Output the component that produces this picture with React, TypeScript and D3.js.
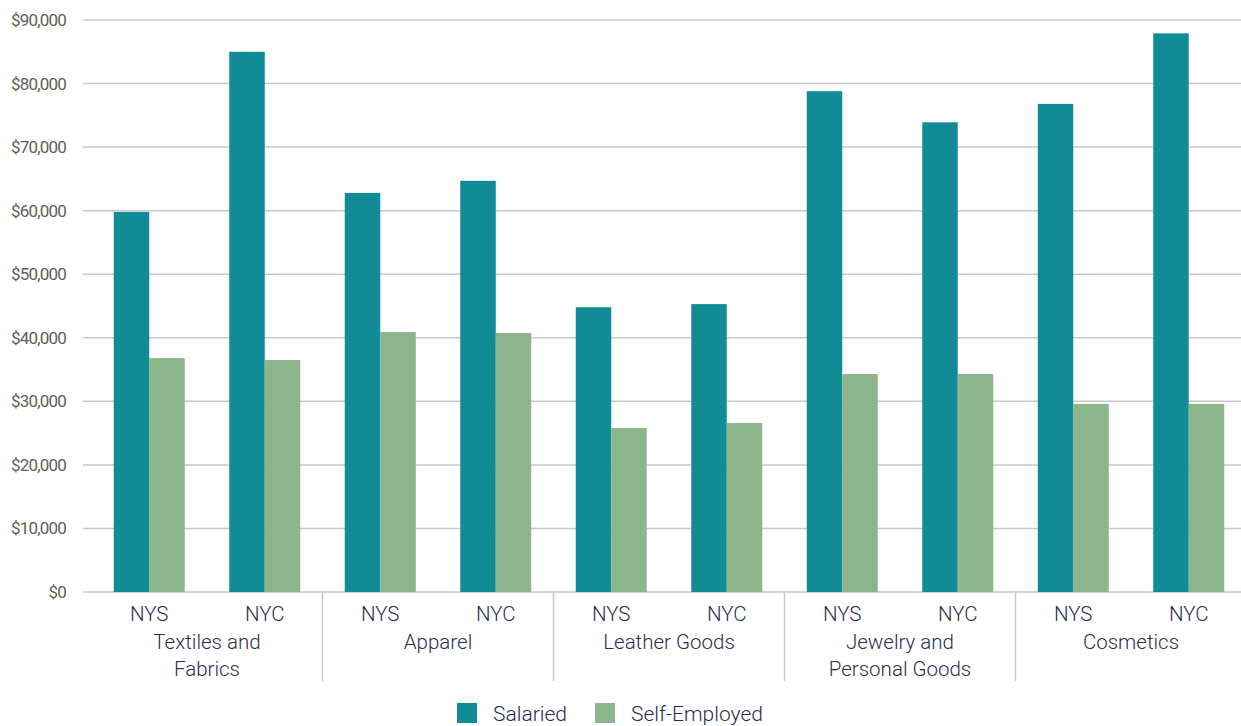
import React from "react";
import * as d3 from "d3";

const groups = ["Textiles and\nFabrics", "Apparel", "Leather Goods", "Jewelry and\nPersonal Goods", "Cosmetics"];
const regions = ["NYS", "NYC"];
const series = ["Salaried", "Self-Employed"];
const salaried = [59800, 85000, 62800, 64700, 44800, 45300, 78800, 73900, 76800, 87900];
const selfEmployed = [36800, 36500, 40900, 40750, 25800, 26600, 34300, 34300, 29600, 29600];
const yTicks = [0, 10000, 20000, 30000, 40000, 50000, 60000, 70000, 80000, 90000];
const colors = ["#118C96", "#8DB58B"];

export default function App() {
  const W = 1241, H = 726;
  const top = 20, bottom = 592;
  const gridLeft = 83, gridRight = 1241;
  const y = d3.scaleLinear().domain([0, 90000]).range([bottom, top]);
  const cats = groups.flatMap((g, gi) => regions.map((r) => `${gi}-${r}`));
  const x = d3.scaleBand<string>().domain(cats).range([91.5, 1246.5]).paddingInner(0).paddingOuter(0);
  const bw = x.bandwidth();
  const inner = d3.scaleBand<string>().domain(series).range([bw / 2 - 35.5, bw / 2 + 35.5]);
  const fmt = (v: number) => "$" + d3.format(",")(v);
  const vals = [salaried, selfEmployed];
  const font = "Roboto, 'Noto Sans', sans-serif";
  const labelColor = "#2b2d4f";
  return (
    <svg width={W} height={H} style={{ position: "absolute", left: 0, top: 0, background: "#fff" }}>
      {yTicks.map((t) => (
        <g key={t}>
          <line x1={gridLeft} x2={gridRight} y1={y(t)} y2={y(t)} stroke="#c8c8c8" strokeWidth={1.5} />
          <text x={66} y={y(t)} dy="0.35em" textAnchor="end" fontFamily={font} fontSize={17} fill="#5f5f52" letterSpacing={-0.8}>
            {fmt(t)}
          </text>
        </g>
      ))}
      {cats.map((c, i) =>
        series.map((s, si) => {
          const v = vals[si][i];
          return (
            <rect key={c + s} x={(x(c) as number) + (inner(s) as number)} y={y(v)} width={inner.bandwidth()} height={y(0) - y(v)} fill={colors[si]} />
          );
        })
      )}
      {cats.map((c, i) => (
        <text key={"l" + c} x={(x(c) as number) + bw / 2} y={621} textAnchor="middle" fontFamily={font} fontWeight={300} fontSize={20.5} fill={labelColor}>
          {regions[i % 2]}
        </text>
      ))}
      {groups.map((g, gi) => {
        const cx = (x(`${gi}-NYS`) as number) + bw;
        return (
          <g key={g}>
            {g.split("\n").map((line, li) => (
              <text key={li} x={cx} y={649 + li * 27} textAnchor="middle" fontFamily={font} fontWeight={300} fontSize={20.5} fill={labelColor}>
                {line}
              </text>
            ))}
            {gi > 0 && (
              <line x1={(x(`${gi}-NYS`) as number)} x2={(x(`${gi}-NYS`) as number)} y1={bottom} y2={681} stroke="#c8c8c8" strokeWidth={1.5} />
            )}
          </g>
        );
      })}
      {series.map((s, si) => {
        const lx = [457, 595][si];
        return (
          <g key={s}>
            <rect x={lx} y={703} width={20} height={20} fill={colors[si]} />
            <text x={lx + 36} y={721} fontFamily={font} fontWeight={300} fontSize={21} fill={labelColor}>
              {s}
            </text>
          </g>
        );
      })}
    </svg>
  );
}
